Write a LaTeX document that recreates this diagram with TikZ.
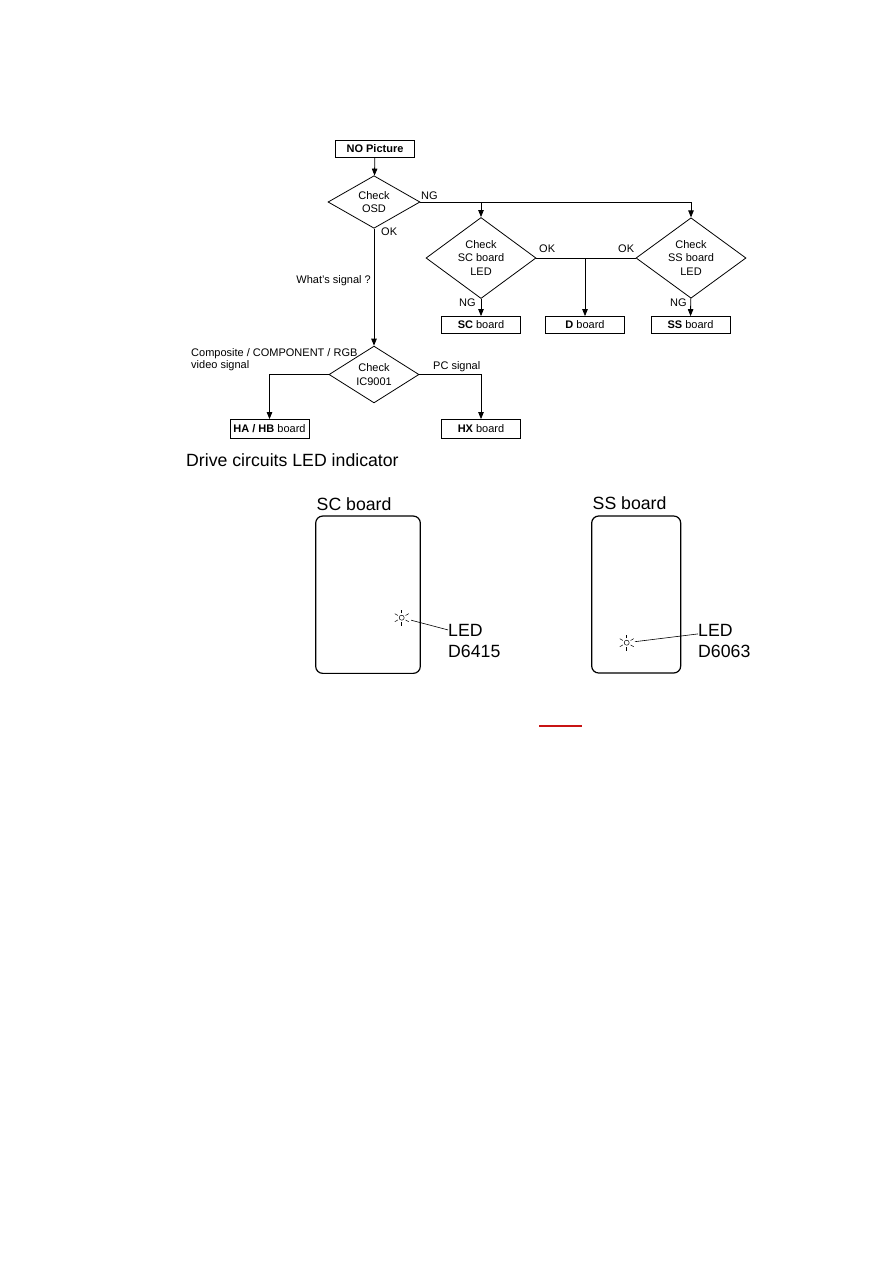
\documentclass[tikz,border=0pt]{standalone}
\usepackage{fontspec}
\setmainfont{Liberation Sans}
\usepackage{xcolor}
\usetikzlibrary{shapes.geometric, arrows.meta, positioning}
\definecolor{linkred}{RGB}{200,20,20}

\begin{document}
\begin{tikzpicture}[x=1bp, y=-1bp,
    every node/.style={inner sep=0pt, font=\fontsize{11bp}{13.3bp}\selectfont},
    chk/.style={draw, diamond, align=center, line width=0.8bp},
    brd/.style={draw, rectangle, line width=0.8bp, minimum width=79bp, minimum height=17bp},
    arr/.style={line width=0.8bp, -{Triangle[length=7bp, width=5.5bp]}},
    lbl/.style={anchor=base west},
    big/.style={font=\fontsize{17.7bp}{21bp}\selectfont, anchor=base west},
    pcb/.style={draw, line width=1.2bp, rounded corners=7bp},
    led/.style={draw, circle, minimum size=5bp, line width=0.5bp},
    ray/.style={line width=0.5bp}
  ]
  \useasboundingbox (0,0) rectangle (893,1263);

  % Flowchart
  \node[brd] (nopic) at (375,149) {\textbf{NO Picture}};
  \node[chk, minimum width=92bp, minimum height=48bp] (osd) at (374,202) {Check\\OSD};
  \node[chk, minimum width=110bp, minimum height=77bp] (scled) at (481,258) {Check\\SC board\\LED};
  \node[chk, minimum width=110bp, minimum height=77bp] (ssled) at (691,258) {Check\\SS board\\LED};
  \node[brd] (scbrd) at (481,325) {\textbf{SC} board};
  \node[brd] (dbrd) at (585,325) {\textbf{D} board};
  \node[brd] (ssbrd) at (690.5,325) {\textbf{SS} board};
  \node[chk, minimum width=90bp, minimum height=49bp] (ic) at (374,374.5) {Check\\IC9001};
  \node[brd, minimum height=19bp] (hahb) at (269.5,429) {\textbf{HA / HB} board};
  \node[brd, minimum height=19bp] (hx) at (481,429) {\textbf{HX} board};

  \draw[arr] (nopic) -- (osd);
  \draw[arr] (osd.east) -| (ssled.north);
  \draw[arr] (osd.east -| scled.north) -- (scled);
  \draw (scled.east) -- (ssled.west);
  \draw[arr] (scled.east -| dbrd.north) -- (dbrd);
  \draw[arr] (scled) -- (scbrd);
  \draw[arr] (ssled) -- (ssbrd);
  \draw[arr] (osd) -- (ic);
  \draw[arr] (ic.west) -| (hahb);
  \draw[arr] (ic.east) -| (hx);

  % Labels
  \node[lbl] (ngosd) at (421,199) {NG};
  \node[lbl] (okosd) at (381,235.5) {OK};
  \node[lbl] (oksc) at (539,252) {OK};
  \node[lbl] (okss) at (618,252) {OK};
  \node[lbl] (ngsc) at (459,306) {NG};
  \node[lbl] (ngss) at (670,306) {NG};
  \node[anchor=base east] (whatsig) at (371,283) {What's signal ?};
  \node[lbl] (compa) at (191,356.5) {Composite / COMPONENT / RGB};
  \node[lbl] (compb) at (191,368.5) {video signal};
  \node[lbl] (pcsig) at (433,369) {PC signal};

  % LED indicator
  \node[big] (drive) at (186,466) {Drive circuits LED indicator};
  \node[big] (sctitle) at (316.5,510) {SC board};
  \node[big] (sstitle) at (592.5,509.5) {SS board};
  \node[pcb, minimum width=104.6bp, minimum height=157.3bp] (scpcb) at (368,594.7) {};
  \node[pcb, minimum width=89bp, minimum height=157bp] (sspcb) at (636.2,594.5) {};

  \node[led] (scd) at (401.7,617.7) {};
  \node[led] (ssd) at (626.7,642.7) {};
  \foreach \a in {30,90,...,330} {
    \draw[ray] (scd.center) ++(\a:4.5bp) -- ++(\a:3.5bp);
    \draw[ray] (ssd.center) ++(\a:4.5bp) -- ++(\a:3.5bp);
  }
  \node[big] (sca) at (448,636) {LED};
  \node[big] (scb) at (448,657) {D6415};
  \node[big] (ssa) at (698,636) {LED};
  \node[big] (ssb) at (698,657) {D6063};
  \draw[line width=0.6bp, shorten <=7bp] (scd) -- (sca.west);
  \draw[line width=0.6bp, shorten <=5.5bp] (ssd) -- ([yshift=-4bp]ssa.west);

  \draw[linkred, line width=1.2bp] (539,726) -- (582,726);
\end{tikzpicture}
\end{document}
